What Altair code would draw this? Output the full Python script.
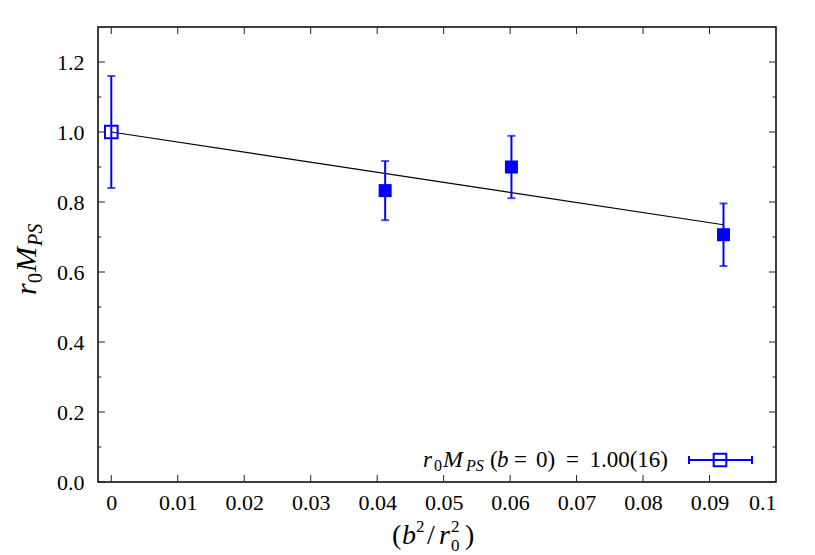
import altair as alt
import pandas as pd

FONT = "Liberation Serif"
BLUE = "#0000ff"

# data points
x_vals = [0.0, 0.0412, 0.0602, 0.0921]
y_vals = [1.00, 0.8325, 0.90, 0.7065]
y_err = [0.16, 0.0845, 0.089, 0.0895]
is_open = [True, False, False, False]

# linear fit
fit_x = [0.0, 0.0921]
fit_y = [1.0, 0.735]

# ticks
x_ticks = [0.0, 0.01, 0.02, 0.03, 0.04, 0.05, 0.06, 0.07, 0.08, 0.09, 0.1]
y_major = [0.0, 0.2, 0.4, 0.6, 0.8, 1.0, 1.2]
y_minor = [0.1, 0.3, 0.5, 0.7, 0.9, 1.1]

W, H = 678, 455

pts = pd.DataFrame({"x": x_vals, "y": y_vals, "err": y_err, "open": is_open})
pts["lo"] = pts["y"] - pts["err"]
pts["hi"] = pts["y"] + pts["err"]
fit = pd.DataFrame({"x": fit_x, "y": fit_y})

xs = alt.Scale(domain=[-0.002, 0.1], nice=False, zero=False)
ys = alt.Scale(domain=[0, 1.3], nice=False, zero=False)

X = alt.X("x:Q", scale=xs, axis=alt.Axis(values=x_ticks, format="~g", labelPadding=10, title=None))
Y = alt.Y("y:Q", scale=ys, axis=alt.Axis(values=y_major, format=".1f", labelPadding=14, title=None))

base = alt.Chart(pts)

line = alt.Chart(fit).mark_line(color="black", strokeWidth=1.2).encode(x=X, y=Y)

ebar = base.mark_rule(color=BLUE, strokeWidth=2).encode(
    x=alt.X("x:Q", scale=xs), y=alt.Y("lo:Q", scale=ys), y2="hi:Q")
cap_lo = base.mark_tick(color=BLUE, thickness=2, size=8, orient="horizontal").encode(
    x=alt.X("x:Q", scale=xs), y=alt.Y("lo:Q", scale=ys))
cap_hi = base.mark_tick(color=BLUE, thickness=2, size=8, orient="horizontal").encode(
    x=alt.X("x:Q", scale=xs), y=alt.Y("hi:Q", scale=ys))

filled = base.transform_filter("!datum.open").mark_square(color=BLUE, size=170, opacity=1).encode(
    x=alt.X("x:Q", scale=xs), y=alt.Y("y:Q", scale=ys))
opened = base.transform_filter("datum.open").mark_point(shape="square", filled=False, color=BLUE,
                                                        strokeWidth=2, size=160, opacity=1).encode(
    x=alt.X("x:Q", scale=xs), y=alt.Y("y:Q", scale=ys))

# inward ticks
xt = pd.DataFrame({"x": x_ticks[:-1]})
ymj = pd.DataFrame({"y": y_major})
ymn = pd.DataFrame({"y": y_minor})
TC = "#222222"
tick_layers = [
    alt.Chart(xt).mark_rule(color=TC, strokeWidth=1).encode(x=alt.X("x:Q", scale=xs), y=alt.value(H), y2=alt.value(H - 7)),
    alt.Chart(xt).mark_rule(color=TC, strokeWidth=1).encode(x=alt.X("x:Q", scale=xs), y=alt.value(0), y2=alt.value(7)),
    alt.Chart(ymj).mark_rule(color=TC, strokeWidth=1).encode(y=alt.Y("y:Q", scale=ys), x=alt.value(0), x2=alt.value(7)),
    alt.Chart(ymj).mark_rule(color=TC, strokeWidth=1).encode(y=alt.Y("y:Q", scale=ys), x=alt.value(W), x2=alt.value(W - 7)),
    alt.Chart(ymn).mark_rule(color=TC, strokeWidth=1).encode(y=alt.Y("y:Q", scale=ys), x=alt.value(0), x2=alt.value(3.5)),
    alt.Chart(ymn).mark_rule(color=TC, strokeWidth=1).encode(y=alt.Y("y:Q", scale=ys), x=alt.value(W), x2=alt.value(W - 3.5)),
]


def txt(s, x, y, size, italic=False, angle=0, align="left"):
    return alt.Chart(alt.Data(values=[{}])).mark_text(
        text=s, font=FONT, fontSize=size, fontStyle="italic" if italic else "normal",
        align=align, baseline="alphabetic", angle=angle, color="black"
    ).encode(x=alt.value(x), y=alt.value(y))


# legend entry (plot-area pixel coordinates)
LB, LS = 440, 444
legend = [
    txt("r", 325, LB, 23, True),
    txt("0", 336, LS, 16),
    txt("M", 345, LB, 24, True),
    txt("PS", 368, LS, 16, True),
    txt("(", 392, LB, 23),
    txt("b", 399, LB, 23, True),
    txt("=", 416, LB, 23),
    txt("0)", 438, LB, 23),
    txt("=", 468, LB, 23),
    txt("1.00(16)", 570, LB, 23, align="right"),
]
leg_y = 433
legend += [
    alt.Chart(alt.Data(values=[{}])).mark_rule(color=BLUE, strokeWidth=2).encode(
        x=alt.value(591), x2=alt.value(654), y=alt.value(leg_y)),
    alt.Chart(alt.Data(values=[{}])).mark_rule(color=BLUE, strokeWidth=2).encode(
        x=alt.value(591), y=alt.value(leg_y - 4), y2=alt.value(leg_y + 4)),
    alt.Chart(alt.Data(values=[{}])).mark_rule(color=BLUE, strokeWidth=2).encode(
        x=alt.value(654), y=alt.value(leg_y - 4), y2=alt.value(leg_y + 4)),
    alt.Chart(alt.Data(values=[{}])).mark_point(shape="square", filled=False, color=BLUE,
                                                strokeWidth=2, size=160, opacity=1).encode(
        x=alt.value(622), y=alt.value(leg_y)),
]

# x-axis title (b^2/r_0^2)
XB = 517
xtitle = [
    txt("(", 294, XB, 28),
    txt("b", 304, XB, 28, True),
    txt("2", 318, XB - 12, 17),
    txt("/", 329, XB, 28),
    txt("r", 341, XB, 28, True),
    txt("2", 353, XB - 12, 17),
    txt("0", 353, XB + 7, 17),
    txt(")", 367, XB, 28),
]

# y-axis title r_0 M_PS (rotated)
YB, YSB = -62, -56
ytitle = [
    txt("r", YB, 268, 30, True, 270),
    txt("0", YSB, 256, 20, False, 270),
    txt("M", YB, 245, 30, True, 270),
    txt("PS", YSB, 219, 20, True, 270),
]

chart = alt.layer(
    line, ebar, cap_lo, cap_hi, filled, opened, *tick_layers, *legend, *xtitle, *ytitle
).properties(
    width=W, height=H,
    padding={"left": 98, "top": 27, "right": 39, "bottom": 73},
    autosize="none",
).configure_view(
    stroke="black", strokeWidth=1.5
).configure_axis(
    labelFont=FONT, labelFontSize=22, labelColor="black",
    ticks=False, domain=False, grid=False
)

chart.save("out.html", embed_options={"renderer": "svg", "actions": False})
